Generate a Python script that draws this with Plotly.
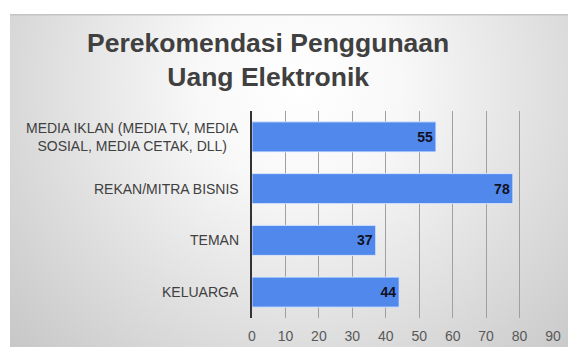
import base64
import plotly.graph_objects as go

# ---- data ----
categories = [
    "MEDIA IKLAN (MEDIA TV, MEDIA<br>SOSIAL, MEDIA CETAK, DLL)",
    "REKAN/MITRA BISNIS",
    "TEMAN",
    "KELUARGA",
]
values = [55, 78, 37, 44]
x_ticks = [0, 10, 20, 30, 40, 50, 60, 70, 80, 90]
title_text = "Perekomendasi Penggunaan<br>Uang Elektronik"

FONT = "Arial, Liberation Sans, sans-serif"

# ---- layout geometry (pixels) ----
W, H = 568, 347
L, R, T, B = 252, 15, 111, 29
pw, ph = W - L - R, H - T - B


def px_x(px):
    return (px - L) / pw


def px_y(py):
    return (H - B - py) / ph


# background: radial gradient panel as svg image
svg = f'''<svg xmlns="http://www.w3.org/2000/svg" width="558" height="333" viewBox="0 0 558 333" preserveAspectRatio="none">
<defs><radialGradient id="g" gradientUnits="userSpaceOnUse" cx="290" cy="70" r="410">
<stop offset="0" stop-color="#ffffff"/>
<stop offset="0.25" stop-color="#f8f8f8"/>
<stop offset="1" stop-color="#c4c4c4"/>
</radialGradient></defs>
<rect width="558" height="333" fill="url(#g)"/>
<rect width="558" height="1.5" fill="#c4c4c4"/>
</svg>'''
src = "data:image/svg+xml;base64," + base64.b64encode(svg.encode()).decode()

fig = go.Figure()
fig.add_trace(go.Bar(
    y=categories,
    x=values,
    orientation="h",
    width=0.58,
    marker=dict(color="#5088EC", line=dict(color="rgba(225,235,255,0.9)", width=1)),
    text=[str(v) for v in values],
    textposition="inside",
    insidetextanchor="end",
    textfont=dict(family=FONT, size=14, color="#111122"),
    texttemplate="<b>%{text}</b>",
    hoverinfo="skip",
))

annotations = [
    dict(text=f"<b>{title_text}</b>", xref="paper", yref="paper",
         x=px_x(268), y=px_y(60), xanchor="center", yanchor="middle",
         showarrow=False, align="center",
         font=dict(family=FONT, size=26.5, color="#404040")),
]
for c in categories:
    annotations.append(dict(
        text=c, xref="paper", yref="y", x=0, y=c, xanchor="right", yanchor="middle",
        xshift=-11, showarrow=False, align="center",
        font=dict(family=FONT, size=14, color="#404040"),
    ))

fig.update_layout(
    width=W, height=H,
    margin=dict(l=L, r=R, t=T, b=B, autoexpand=False),
    paper_bgcolor="white",
    plot_bgcolor="rgba(0,0,0,0)",
    showlegend=False,
    annotations=annotations,
    images=[dict(source=src, xref="paper", yref="paper",
                 x=px_x(10), y=px_y(14), sizex=558 / pw, sizey=333 / ph,
                 xanchor="left", yanchor="top", sizing="stretch", layer="below")],
    xaxis=dict(range=[0, 90], tickvals=x_ticks, showgrid=True, gridcolor="#a0a0a0",
               gridwidth=1, zeroline=False, showline=False, ticks="",
               ticklabelstandoff=8, automargin=False,
               tickfont=dict(family=FONT, size=14, color="#595959"),
               fixedrange=True),
    yaxis=dict(autorange="reversed", showticklabels=False, showgrid=False,
               showline=True, linecolor="#333333", linewidth=1.5, ticks="",
               automargin=False, fixedrange=True),
    bargap=0.42,
)

fig.write_html("out.html", config={"displayModeBar": False})
